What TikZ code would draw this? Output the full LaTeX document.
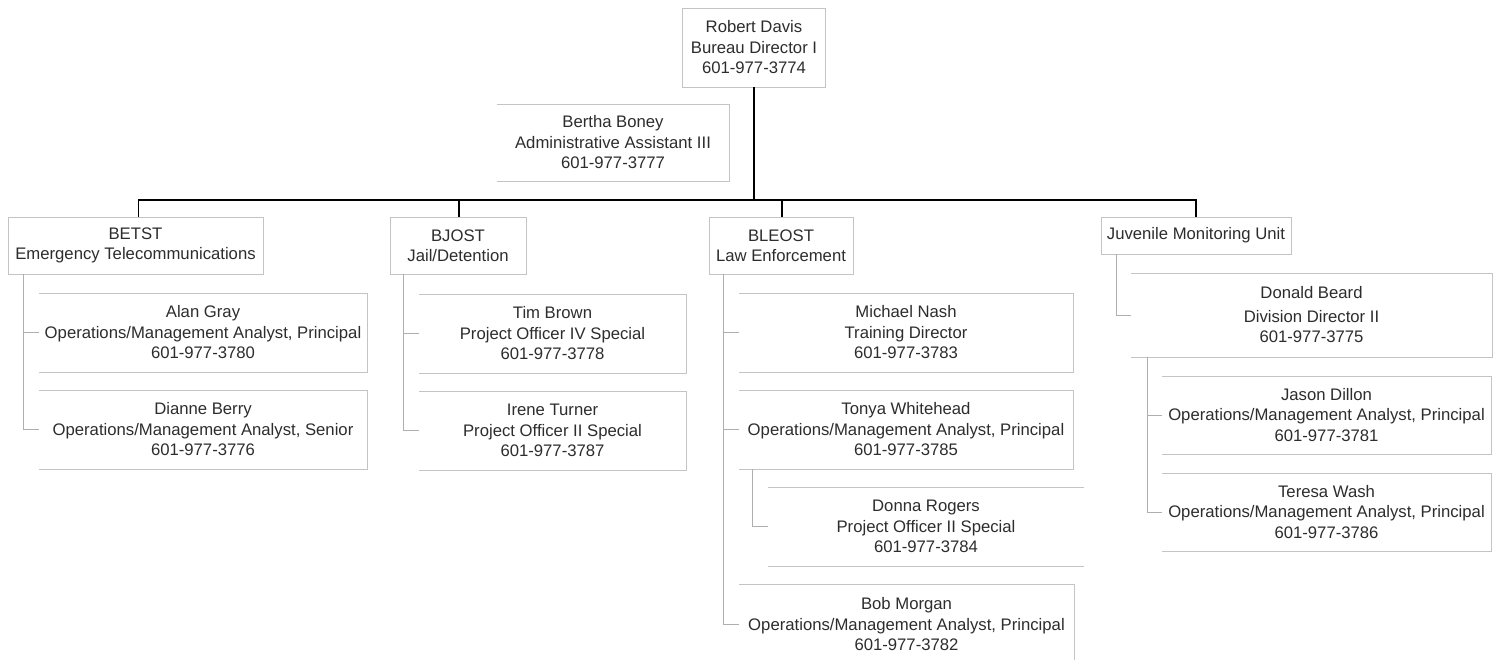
\documentclass[tikz,border=0pt]{standalone}
\usepackage{fontspec}
\setmainfont{Liberation Sans}
\definecolor{txt}{RGB}{45,45,45}
\definecolor{framegray}{RGB}{196,196,196}
\definecolor{subgray}{RGB}{175,175,175}
\tikzset{
  box/.style={anchor=north west, inner sep=0pt, outer sep=0pt, align=center,
    text=txt, font=\fontsize{16.7}{20.5}\selectfont},
  frame/.style={draw=framegray, line width=1pt},
  mainline/.style={draw=black, line width=1.3pt},
  subline/.style={draw=subgray, line width=1pt},
}
\begin{document}
\begin{tikzpicture}[x=1pt,y=-1pt]
\clip (0,0) rectangle (1498,659);
\fill[white] (0,0) rectangle (1498,659);

% top
\node[box, minimum width=143pt, minimum height=79pt] (rd) at (682.5,8)
  {Robert Davis\\Bureau Director I\\601-977-3774};
\node[box, minimum width=232pt, minimum height=77pt] (bertha) at (497,104)
  {Bertha Boney\\Administrative Assistant III\\601-977-3777};

% departments
\node[box, minimum width=255pt, minimum height=57pt] (betst) at (8,217)
  {BETST\\Emergency Telecommunications};
\node[box, minimum width=136pt, minimum height=57pt] (bjost) at (390,217)
  {BJOST\\Jail/Detention};
\node[box, minimum width=144pt, minimum height=57pt] (bleost) at (709,217)
  {BLEOST\\Law Enforcement};
\node[box, minimum width=190pt, minimum height=37pt] (juv) at (1101,217)
  {Juvenile Monitoring Unit};

% BETST children
\node[box, minimum width=328pt, minimum height=79pt] (alan) at (39,293)
  {Alan Gray\\Operations/Management Analyst, Principal\\601-977-3780};
\node[box, minimum width=328pt, minimum height=79pt] (dianne) at (39,390)
  {Dianne Berry\\Operations/Management Analyst, Senior\\601-977-3776};

% BJOST children
\node[box, minimum width=267pt, minimum height=79pt] (tim) at (419,294)
  {Tim Brown\\Project Officer IV Special\\601-977-3778};
\node[box, minimum width=267pt, minimum height=79pt] (irene) at (419,391)
  {Irene Turner\\Project Officer II Special\\601-977-3787};

% BLEOST children
\node[box, minimum width=334pt, minimum height=79pt] (michael) at (739,293)
  {Michael Nash\\Training Director\\601-977-3783};
\node[box, minimum width=334pt, minimum height=79pt] (tonya) at (739,390)
  {Tonya Whitehead\\Operations/Management Analyst, Principal\\601-977-3785};
\node[box, minimum width=316pt, minimum height=79pt] (donna) at (768,487)
  {Donna Rogers\\Project Officer II Special\\601-977-3784};
\node[box, minimum width=335pt, minimum height=81pt] (bob) at (739,584)
  {Bob Morgan\\Operations/Management Analyst, Principal\\601-977-3782};

% Juvenile children
\node[box, minimum width=361pt, minimum height=84pt] (donald) at (1131,273)
  {Donald Beard\\[3pt]Division Director II\\601-977-3775};
\node[box, minimum width=329pt, minimum height=78pt] (jason) at (1162,376)
  {Jason Dillon\\Operations/Management Analyst, Principal\\601-977-3781};
\node[box, minimum width=329pt, minimum height=78pt] (teresa) at (1162,473)
  {Teresa Wash\\Operations/Management Analyst, Principal\\601-977-3786};

% frames: closed boxes
\foreach \n in {rd,betst,bjost,bleost,juv}
  \draw[frame] (\n.north west) rectangle (\n.south east);
% frames open on the left
\foreach \n in {bertha,alan,dianne,tim,irene,michael,tonya,bob,donald,jason,teresa}
  \draw[frame] (\n.north west) -- (\n.north east) -- (\n.south east) -- (\n.south west);
% frame with top and bottom only
\draw[frame] (donna.north west) -- (donna.north east);
\draw[frame] (donna.south west) -- (donna.south east);

% main connectors
\coordinate (hub) at (754,200);
\draw[mainline] (rd.south) -- (hub);
\draw[mainline] ([xshift=3pt]betst.north) |- (hub) -| (juv.north);
\draw[mainline] ([xshift=1pt]bjost.north) -- ++(0,-17);
\draw[mainline] ([xshift=1pt]bleost.north) -- ++(0,-17);

% sub connectors
\draw[subline] ([xshift=15pt]betst.south west) |- (dianne.west);
\draw[subline] (alan.west) -- ++(-16,0);
\draw[subline] ([xshift=13pt]bjost.south west) |- (irene.west);
\draw[subline] (tim.west) -- ++(-16,0);
\draw[subline] ([xshift=14pt]bleost.south west) |- (bob.west);
\draw[subline] (michael.west) -- ++(-16,0);
\draw[subline] (tonya.west) -- ++(-16,0);
\draw[subline] ([xshift=13pt]tonya.south west) |- (donna.west);
\draw[subline] ([xshift=15pt]juv.south west) |- (donald.west);
\draw[subline] ([xshift=16pt]donald.south west) |- (teresa.west);
\draw[subline] (jason.west) -- ++(-15,0);
\end{tikzpicture}
\end{document}
